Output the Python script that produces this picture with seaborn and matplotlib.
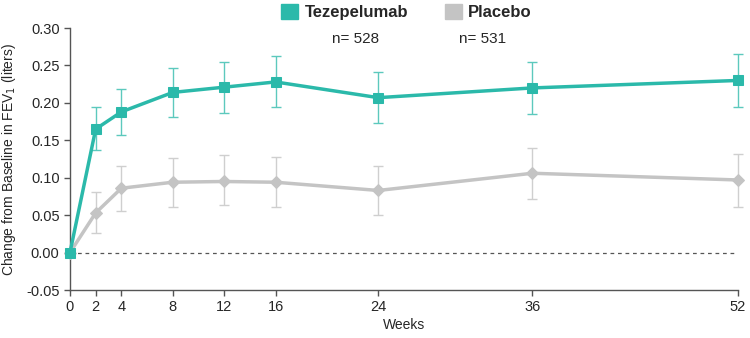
import matplotlib
matplotlib.use("Agg")
import matplotlib.pyplot as plt
import seaborn as sns
import pandas as pd
from matplotlib.patches import Patch

weeks = [0, 2, 4, 8, 12, 16, 24, 36, 52]
teze = [0.0, 0.165, 0.188, 0.214, 0.221, 0.228, 0.207, 0.220, 0.230]
teze_lo = [0.0, 0.137, 0.157, 0.181, 0.187, 0.194, 0.173, 0.185, 0.194]
teze_hi = [0.0, 0.194, 0.219, 0.247, 0.254, 0.262, 0.241, 0.255, 0.265]
plac = [0.0, 0.053, 0.086, 0.094, 0.095, 0.094, 0.083, 0.106, 0.097]
plac_lo = [0.0, 0.026, 0.055, 0.061, 0.063, 0.061, 0.050, 0.072, 0.061]
plac_hi = [0.0, 0.081, 0.116, 0.126, 0.130, 0.128, 0.116, 0.140, 0.132]
groups = ["Tezepelumab", "Placebo"]
n_labels = ["n= 528", "n= 531"]
yticks = [-0.05, 0.00, 0.05, 0.10, 0.15, 0.20, 0.25, 0.30]

sns.set_style("ticks")
plt.rcParams["font.family"] = ["Liberation Sans", "DejaVu Sans"]

TEAL = "#2bb9aa"
GRAY = "#c4c4c4"

fig = plt.figure(figsize=(7.5, 3.38), dpi=100)
ax = fig.add_axes([0.0933, 0.142, 0.8907, 0.775])

df = pd.DataFrame({
    "week": weeks * 2,
    "value": teze + plac,
    "group": [groups[0]] * len(weeks) + [groups[1]] * len(weeks),
})

ax.axhline(0, color="#555555", lw=0.9, ls=(0, (3, 3)), zorder=1)

for g, vals, lo, hi, col, ecol, mk, ms in [
    (groups[1], plac, plac_lo, plac_hi, GRAY, "#cfcfcf", "D", 6.5),
    (groups[0], teze, teze_lo, teze_hi, TEAL, "#5cc9bd", "s", 7),
]:
    yerr = [[v - l for v, l in zip(vals, lo)], [h - v for v, h in zip(vals, hi)]]
    eb = ax.errorbar(weeks[1:], vals[1:], yerr=[yerr[0][1:], yerr[1][1:]], fmt="none",
                     ecolor=ecol, elinewidth=1.0, capsize=3.5, capthick=1.0, zorder=2)
    for art in eb.get_children():
        art.set_clip_on(False)
    sub = df[df["group"] == g]
    sns.lineplot(data=sub, x="week", y="value", ax=ax, color=col, lw=2.5,
                 marker=mk, markersize=ms, markeredgecolor=col, zorder=3,
                 legend=False, clip_on=False)

ax.set_xlim(0, 52)
ax.set_ylim(-0.05, 0.30)
ax.set_xticks(weeks)
ax.set_yticks(yticks)
ax.set_yticklabels([f"{t:.2f}" for t in yticks])
ax.tick_params(labelsize=10.5, color="#555555", length=4, width=1)
sns.despine(ax=ax)
for s in ["left", "bottom"]:
    ax.spines[s].set_color("#555555")
    ax.spines[s].set_linewidth(1)
ax.set_xlabel("Weeks", fontsize=10)
ax.set_ylabel("Change from Baseline in FEV$_1$ (liters)", fontsize=10)
ax.yaxis.set_label_coords(-0.078, 0.5)
ax.xaxis.set_label_coords(0.5, -0.105)

handles = [Patch(facecolor=TEAL, edgecolor=TEAL), Patch(facecolor=GRAY, edgecolor=GRAY)]
leg = fig.legend(handles, groups, loc="center", bbox_to_anchor=(0.542, 0.965), ncol=2,
                 frameon=False, handlelength=1.0, handleheight=1.0, handletextpad=0.4,
                 columnspacing=2.2, prop={"weight": "bold", "size": 12})

fig.text(0.474, 0.885, n_labels[0], ha="center", va="center", fontsize=11)
fig.text(0.643, 0.885, n_labels[1], ha="center", va="center", fontsize=11)

fig.savefig("out.png", dpi=100)
